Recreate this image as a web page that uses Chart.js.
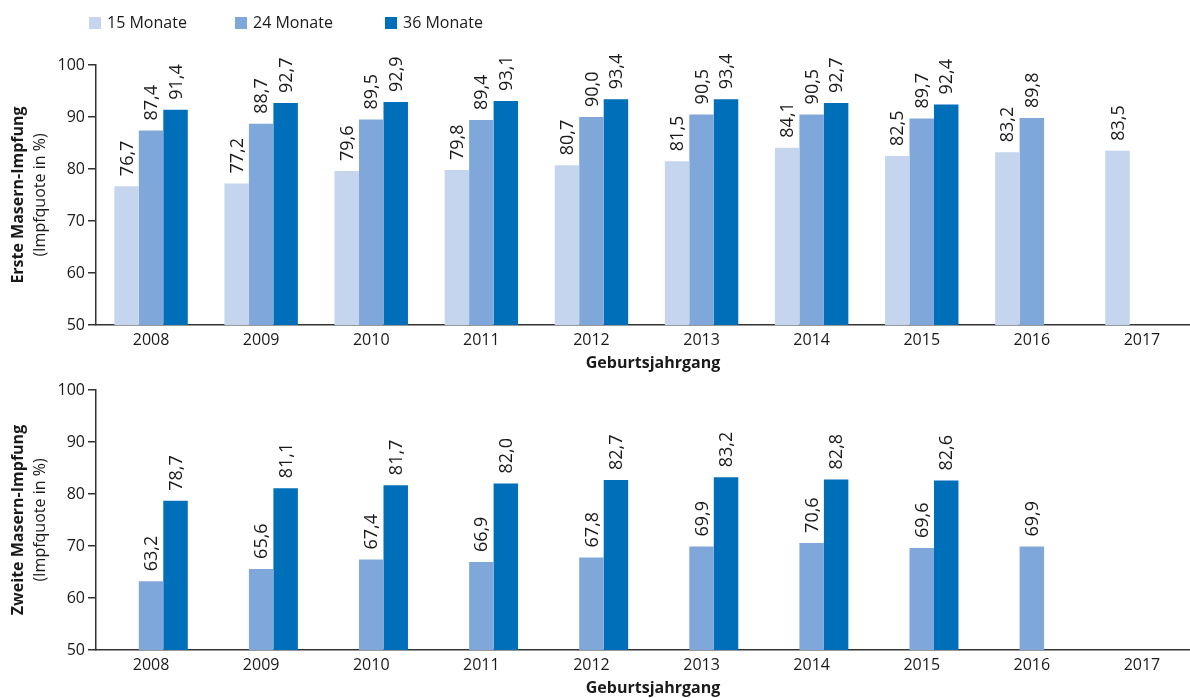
<!DOCTYPE html>
<html lang="de">
<head>
<meta charset="utf-8">
<script src="https://cdn.jsdelivr.net/npm/chart.js"></script>
<style>
  html, body { margin: 0; padding: 0; background: #fff; overflow: hidden; }
  body { width: 1190px; height: 698px; position: relative; font-family: "Open Sans", sans-serif; }
  .chart-wrapper { position: absolute; left: 0; width: 1200px; }
  #top-wrap { top: 0; height: 375px; }
  #bottom-wrap { top: 375px; height: 323px; }
  .legend { position: absolute; top: 12px; left: 0; height: 20px; font-size: 16px; color: #1a1a1a; z-index: 2; }
  .legend span { position: absolute; white-space: nowrap; line-height: 20px; }
  .legend i { position: absolute; top: 5px; width: 12px; height: 12px; }
</style>
</head>
<body>
<div class="legend" id="legend"></div>
<div class="chart-wrapper" id="top-wrap"><canvas id="first-dose"></canvas></div>
<div class="chart-wrapper" id="bottom-wrap"><canvas id="second-dose"></canvas></div>
<script>
// Data
const years = ["2008", "2009", "2010", "2011", "2012", "2013", "2014", "2015", "2016", "2017"];
const seriesNames = ["15 Monate", "24 Monate", "36 Monate"];
const seriesColors = ["#c6d5ee", "#80a7d9", "#006fb9"];

// Erste Masern-Impfung
const first15 = [76.7, 77.2, 79.6, 79.8, 80.7, 81.5, 84.1, 82.5, 83.2, 83.5];
const first24 = [87.4, 88.7, 89.5, 89.4, 90.0, 90.5, 90.5, 89.7, 89.8, null];
const first36 = [91.4, 92.7, 92.9, 93.1, 93.4, 93.4, 92.7, 92.4, null, null];

// Zweite Masern-Impfung (no 15-month values)
const second15 = [null, null, null, null, null, null, null, null, null, null];
const second24 = [63.2, 65.6, 67.4, 66.9, 67.8, 69.9, 70.6, 69.6, 69.9, null];
const second36 = [78.7, 81.1, 81.7, 82.0, 82.7, 83.2, 82.8, 82.6, null, null];

const yTicks = [50, 60, 70, 80, 90, 100];

const FONT = "'Open Sans', sans-serif";
const TEXT = "#1a1a1a";
const AXIS = "#333333";

//Helper Functions
const toComma = (value) => value.toFixed(1).replace(".", ",");

// Legend
const legend = document.getElementById("legend");
const legendX = [89, 235, 385];
seriesNames.forEach((name, i) => {
  const box = document.createElement("i");
  box.style.left = legendX[i] + "px";
  box.style.background = seriesColors[i];
  const label = document.createElement("span");
  label.style.left = legendX[i] + 18 + "px";
  label.textContent = name;
  legend.append(box, label);
});

// rotated value labels above each bar
const valueLabels = {
  id: "valueLabels",
  afterDatasetsDraw(chart) {
    const ctx = chart.ctx;
    chart.data.datasets.forEach((ds, i) => {
      const meta = chart.getDatasetMeta(i);
      meta.data.forEach((bar, j) => {
        const v = ds.data[j];
        if (v == null) return;
        ctx.save();
        ctx.translate(bar.x, bar.y - 10);
        ctx.rotate(-Math.PI / 2);
        ctx.font = "18px " + FONT;
        ctx.fillStyle = TEXT;
        ctx.textAlign = "left";
        ctx.textBaseline = "middle";
        ctx.fillText(toComma(v), 0, 1);
        ctx.restore();
      });
    });
  },
};

// axis titles (bold first line + normal second line)
const axisTitles = {
  id: "axisTitles",
  afterDraw(chart, args, opts) {
    const ctx = chart.ctx;
    const area = chart.chartArea;
    ctx.save();
    ctx.fillStyle = TEXT;
    ctx.textAlign = "center";
    ctx.textBaseline = "middle";
    // x title
    ctx.font = "bold 16px " + FONT;
    ctx.fillText(opts.xTitle, 653, area.bottom + 38);
    // y titles
    const cy = (area.top + area.bottom) / 2;
    ctx.translate(18, cy);
    ctx.rotate(-Math.PI / 2);
    ctx.font = "bold 16px " + FONT;
    ctx.fillText(opts.yTitle, 0, 0);
    ctx.font = "16px " + FONT;
    ctx.fillText(opts.ySub, 0, 22);
    ctx.restore();
  },
};

//Charts
const makeChart = (canvasId, values, yTitle, padTop, xHeight) => {
  const canvas = document.getElementById(canvasId);
  const data = {
    labels: years,
    datasets: values.map((arr, i) => ({
      label: seriesNames[i],
      data: arr,
      backgroundColor: seriesColors[i],
      borderWidth: 0,
      categoryPercentage: 0.667,
      barPercentage: 1.0,
    })),
  };
  const chartSettings = {
    responsive: true,
    maintainAspectRatio: false,
    animation: false,
    layout: { padding: { top: padTop, right: 3, bottom: 0, left: 0 } },
    plugins: {
      legend: { display: false },
      tooltip: { enabled: false },
      axisTitles: { xTitle: "Geburtsjahrgang", yTitle: yTitle, ySub: "(Impfquote in %)" },
    },
    scales: {
      x: {
        grid: { display: false, drawTicks: false },
        border: { display: true, color: AXIS, width: 1.5 },
        ticks: { color: TEXT, font: { family: FONT, size: 16 }, padding: 6, maxRotation: 0 },
        afterFit: (axis) => { axis.height = xHeight; },
      },
      y: {
        min: 50,
        max: 100,
        afterBuildTicks: (axis) => { axis.ticks = yTicks.map((v) => ({ value: v })); },
        grid: { display: true, drawOnChartArea: false, drawTicks: true, tickLength: 8, color: AXIS, lineWidth: 1.5 },
        border: { display: true, color: AXIS, width: 1.5 },
        ticks: { color: TEXT, font: { family: FONT, size: 16 }, padding: 3 },
        afterFit: (axis) => { axis.width = 96; },
      },
    },
  };
  new Chart(canvas, {
    type: "bar",
    data: data,
    options: chartSettings,
    plugins: [valueLabels, axisTitles],
  });
};

makeChart("first-dose", [first15, first24, first36], "Erste Masern-Impfung", 65, 50);
makeChart("second-dose", [second15, second24, second36], "Zweite Masern-Impfung", 15, 48);
</script>
</body>
</html>
